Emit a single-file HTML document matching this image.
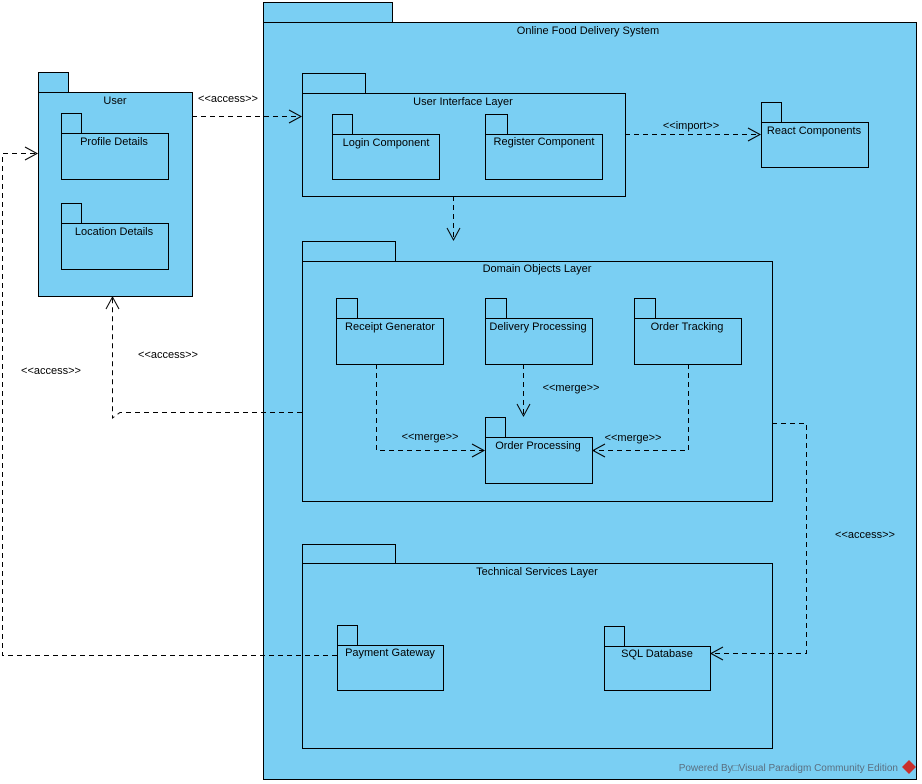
<!DOCTYPE html>
<html><head><meta charset="utf-8"><style>
html,body{margin:0;padding:0;background:#fff;}
svg{display:block;font-family:"Liberation Sans",sans-serif;font-size:11px;}
</style></head><body>
<svg width="922" height="784" viewBox="0 0 922 784" xmlns="http://www.w3.org/2000/svg">
<g fill="#7ACFF3" stroke="#000" stroke-width="1">
<rect x="263.5" y="2.5" width="129" height="20"/><rect x="263.5" y="22.5" width="653" height="757"/>
<rect x="38.5" y="72.5" width="30" height="20"/><rect x="38.5" y="92.5" width="154" height="204"/>
<rect x="61.5" y="113.5" width="20" height="20"/><rect x="61.5" y="133.5" width="107" height="46"/>
<rect x="61.5" y="203.5" width="20" height="20"/><rect x="61.5" y="223.5" width="107" height="46"/>
<rect x="302.5" y="73.5" width="63" height="20"/><rect x="302.5" y="93.5" width="323" height="103"/>
<rect x="332.5" y="114.5" width="20" height="20"/><rect x="332.5" y="134.5" width="107" height="45"/>
<rect x="485.5" y="114.5" width="22" height="20"/><rect x="485.5" y="134.5" width="117" height="45"/>
<rect x="761.5" y="102.5" width="20" height="20"/><rect x="761.5" y="122.5" width="107" height="45"/>
<rect x="302.5" y="241.5" width="93" height="20"/><rect x="302.5" y="261.5" width="470" height="240"/>
<rect x="336.5" y="298.5" width="21" height="20"/><rect x="336.5" y="318.5" width="107" height="46"/>
<rect x="485.5" y="298.5" width="21" height="20"/><rect x="485.5" y="318.5" width="107" height="46"/>
<rect x="634.5" y="298.5" width="21" height="20"/><rect x="634.5" y="318.5" width="107" height="46"/>
<rect x="485.5" y="417.5" width="20" height="20"/><rect x="485.5" y="437.5" width="107" height="46"/>
<rect x="302.5" y="544.5" width="93" height="19"/><rect x="302.5" y="563.5" width="470" height="185"/>
<rect x="337.5" y="625.5" width="20" height="20"/><rect x="337.5" y="645.5" width="106" height="45"/>
<rect x="604.5" y="626.5" width="20" height="20"/><rect x="604.5" y="646.5" width="106" height="44"/>
</g>
<g fill="none" stroke="#000" stroke-dasharray="5,4">
<path d="M192 116.5H301"/>
<path d="M625 134.5H760"/>
<path d="M453.5 196V240"/>
<path d="M302 412.5H120L112.5 418V297"/>
<path d="M337 655.5H2.5V153.5H37"/>
<path d="M376.5 364V450.5H484"/>
<path d="M523.5 364V416"/>
<path d="M688.5 364V450.5H593"/>
<path d="M772 423.5H806.5V653.5H711"/>
</g>
<g fill="none" stroke="#000">
<path d="M289 110L301 116.5L289 123"/>
<path d="M748 128L760 134.5L748 141"/>
<path d="M447 228L453.5 240L460 228"/>
<path d="M106 309L112.5 297L119 309"/>
<path d="M25 147L37 153.5L25 160"/>
<path d="M472 444L484 450.5L472 457"/>
<path d="M517 404L523.5 416L530 404"/>
<path d="M605 444L593 450.5L605 457"/>
<path d="M723 647L711 653.5L723 660"/>
</g>
<g fill="#000" text-anchor="middle">
<text x="588" y="34">Online Food Delivery System</text>
<text x="115" y="104">User</text>
<text x="114" y="145">Profile Details</text>
<text x="114" y="235">Location Details</text>
<text x="463" y="105">User Interface Layer</text>
<text x="386" y="146">Login Component</text>
<text x="544" y="145">Register Component</text>
<text x="814" y="134">React Components</text>
<text x="537" y="272">Domain Objects Layer</text>
<text x="390" y="330">Receipt Generator</text>
<text x="538" y="330">Delivery Processing</text>
<text x="687" y="330">Order Tracking</text>
<text x="538" y="449">Order Processing</text>
<text x="537" y="575">Technical Services Layer</text>
<text x="390" y="656">Payment Gateway</text>
<text x="657" y="657">SQL Database</text>
<text x="228" y="102">&lt;&lt;access&gt;&gt;</text>
<text x="691" y="129">&lt;&lt;import&gt;&gt;</text>
<text x="168" y="358">&lt;&lt;access&gt;&gt;</text>
<text x="51" y="374">&lt;&lt;access&gt;&gt;</text>
<text x="430" y="440">&lt;&lt;merge&gt;&gt;</text>
<text x="571" y="391">&lt;&lt;merge&gt;&gt;</text>
<text x="633" y="441">&lt;&lt;merge&gt;&gt;</text>
<text x="865" y="538">&lt;&lt;access&gt;&gt;</text>
</g>
<text x="898" y="771" text-anchor="end" fill="#5a6f80" font-size="10">Powered By□Visual Paradigm Community Edition</text>
<path d="M909 760L916 767L909 774L902 767Z" fill="#c9302c"/>
</svg>
</body></html>
